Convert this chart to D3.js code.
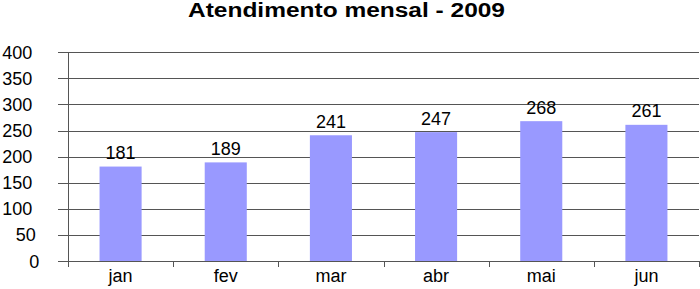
<!DOCTYPE html>
<html>
<head>
<meta charset="utf-8">
<script src="https://cdn.jsdelivr.net/npm/d3@7"></script>
<style>
  html, body { margin: 0; padding: 0; background: #fff; }
  svg { display: block; font-family: "Liberation Sans", Arial, sans-serif; }
</style>
</head>
<body>
<svg id="chart" width="700" height="289"></svg>
<script>
const title = "Atendimento mensal - 2009";
const categories = ["jan", "fev", "mar", "abr", "mai", "jun"];
const values = [181, 189, 241, 247, 268, 261];
const yTicks = [0, 50, 100, 150, 200, 250, 300, 350, 400];

(function () {
const svg = d3.select("#chart");
const mLeft = 68, mRight = 699, mTop = 52.3, mBottom = 261;

const x = d3.scaleBand().domain(categories).range([mLeft, mRight]).paddingInner(0.6).paddingOuter(0.3);
const xb = d3.scaleBand().domain(categories).range([mLeft, mRight]);
const y = d3.scaleLinear().domain([0, 400]).range([mBottom, mTop]);

// title
svg.append("text")
  .attr("x", 346.5).attr("y", 17)
  .attr("text-anchor", "middle")
  .attr("font-size", 19.5).attr("font-weight", "bold")
  .attr("textLength", 317).attr("lengthAdjust", "spacingAndGlyphs")
  .attr("fill", "#000")
  .text(title);

// gridlines
svg.append("g").selectAll("line").data(yTicks).join("line")
  .attr("x1", mLeft - 10).attr("x2", mRight)
  .attr("y1", d => Math.round(y(d)) + 0.5).attr("y2", d => Math.round(y(d)) + 0.5)
  .attr("stroke", "#555").attr("stroke-width", 1);

// y labels
svg.append("g").selectAll("text").data(yTicks).join("text")
  .attr("x", d => 32.3 + (3 - String(d).length) * 3.5)
  .attr("y", d => y(d) + 6.5)
  .attr("text-anchor", "end")
  .attr("font-size", 18)
  .attr("fill", "#000")
  .text(d => d);

// bars
svg.append("g").selectAll("rect").data(values).join("rect")
  .attr("x", (d, i) => x(categories[i]))
  .attr("width", x.bandwidth())
  .attr("y", d => y(d))
  .attr("height", d => y(0) - y(d))
  .attr("fill", "#9999FF");

// y axis line
svg.append("line")
  .attr("x1", mLeft + 0.5).attr("x2", mLeft + 0.5)
  .attr("y1", mTop).attr("y2", mBottom + 6)
  .attr("stroke", "#555");

// x axis line
svg.append("line")
  .attr("x1", mLeft).attr("x2", mRight)
  .attr("y1", Math.round(y(0)) + 0.5).attr("y2", Math.round(y(0)) + 0.5)
  .attr("stroke", "#555");

// x category ticks
const bounds = categories.map(c => xb(c)).concat([mRight]);
svg.append("g").selectAll("line").data(bounds).join("line")
  .attr("x1", d => Math.round(d) + 0.5).attr("x2", d => Math.round(d) + 0.5)
  .attr("y1", mBottom).attr("y2", mBottom + 6)
  .attr("stroke", "#555");

// category labels
svg.append("g").selectAll("text").data(categories).join("text")
  .attr("x", d => xb(d) + xb.bandwidth() / 2)
  .attr("y", 281.7)
  .attr("text-anchor", "middle")
  .attr("font-size", 18)
  .attr("fill", "#000")
  .text(d => d);

// data labels
svg.append("g").selectAll("text").data(values).join("text")
  .attr("x", (d, i) => x(categories[i]) + x.bandwidth() / 2)
  .attr("y", d => y(d) - 7.5)
  .attr("text-anchor", "middle")
  .attr("font-size", 18)
  .attr("fill", "#000")
  .text(d => d);
})();
</script>
</body>
</html>
